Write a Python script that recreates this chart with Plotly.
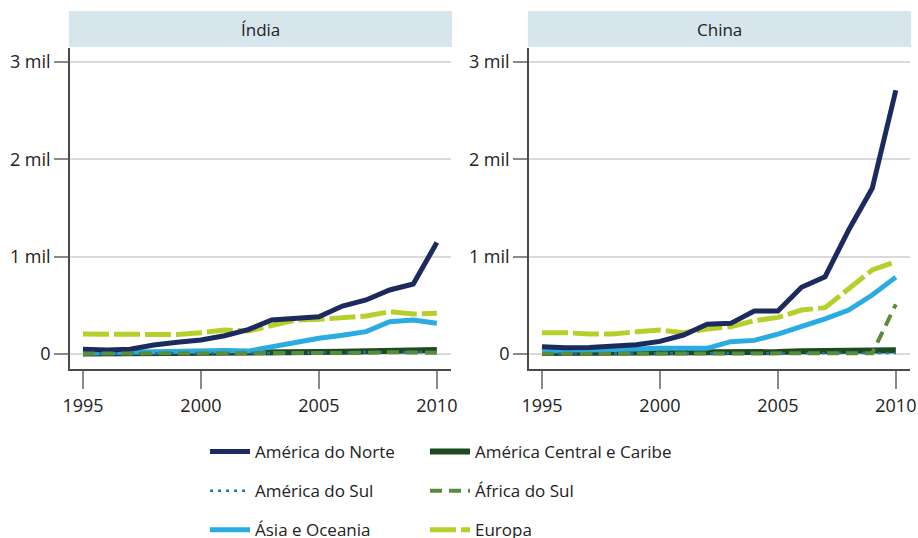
import plotly.graph_objects as go

years = list(range(1995, 2011))
panels = ["Índia", "China"]

series_names = ["América do Norte", "América Central e Caribe", "América do Sul",
                "África do Sul", "Ásia e Oceania", "Europa"]

india_norte = [50, 40, 50, 92, 120, 144, 188, 250, 349, 367, 383, 493, 555, 658, 719, 1145]
india_central = [5, 5, 5, 5, 5, 5, 8, 10, 12, 15, 20, 22, 25, 30, 32, 40]
india_sul = [5, 5, 5, 5, 5, 8, 8, 10, 10, 12, 15, 15, 18, 20, 20, 20]
india_africa = [5, 5, 5, 5, 5, 5, 5, 8, 8, 10, 10, 10, 12, 18, 10, 12]
india_asia = [10, 15, 15, 25, 25, 25, 35, 30, 75, 116, 161, 192, 230, 332, 349, 315]
india_europa = [205, 205, 195, 195, 200, 219, 246, 236, 298, 349, 356, 367, 390, 435, 411, 418]

china_norte = [75, 65, 68, 78, 95, 130, 195, 305, 315, 442, 442, 685, 794, 1274, 1702, 2710]
china_central = [10, 10, 10, 10, 10, 10, 10, 12, 12, 15, 20, 28, 28, 30, 32, 38]
china_sul = [5, 5, 5, 5, 5, 5, 5, 5, 5, 8, 8, 10, 10, 10, 10, 10]
china_africa = [3, 3, 3, 3, 3, 3, 3, 3, 3, 5, 5, 5, 5, 5, 8, 510]
china_asia = [24, 41, 41, 41, 51, 58, 58, 58, 127, 140, 205, 281, 362, 452, 606, 790]
china_europa = [219, 219, 205, 205, 229, 246, 219, 257, 281, 342, 376, 452, 476, 667, 863, 948]

y_tickvals = [0, 1000, 2000, 3000]
y_ticktext = ["0", "1 mil", "2 mil", "3 mil"]
x_tickvals = [1995, 2000, 2005, 2010]

data = {
    "Índia": {
        "América do Norte": india_norte, "América Central e Caribe": india_central,
        "América do Sul": india_sul, "África do Sul": india_africa,
        "Ásia e Oceania": india_asia, "Europa": india_europa,
    },
    "China": {
        "América do Norte": china_norte, "América Central e Caribe": china_central,
        "América do Sul": china_sul, "África do Sul": china_africa,
        "Ásia e Oceania": china_asia, "Europa": china_europa,
    },
}

styles = {
    "América do Norte": dict(color="#1c2b5e", width=5, dash="solid", legend="legend", rank=1),
    "América Central e Caribe": dict(color="#1e4a20", width=6, dash="solid", legend="legend2", rank=1),
    "América do Sul": dict(color="#1f72b8", width=2.5, dash="3px,5px", legend="legend", rank=2),
    "África do Sul": dict(color="#5b8b3c", width=4, dash="12px,7px", legend="legend2", rank=2),
    "Ásia e Oceania": dict(color="#2aabe2", width=5, dash="solid", legend="legend", rank=3),
    "Europa": dict(color="#b7cf2b", width=5, dash="26px,5px", legend="legend2", rank=3),
}

draw_order = ["América Central e Caribe", "Ásia e Oceania", "Europa", "América do Norte",
              "América do Sul", "África do Sul"]

FONT = "Open Sans"
fig = go.Figure()

for pi, panel in enumerate(panels):
    xa = "x" if pi == 0 else "x2"
    ya = "y" if pi == 0 else "y2"
    for name in draw_order:
        s = styles[name]
        fig.add_trace(go.Scatter(
            x=years, y=data[panel][name], mode="lines", name=name,
            line=dict(color=s["color"], width=s["width"], dash=s["dash"]),
            xaxis=xa, yaxis=ya, showlegend=(pi == 0),
            legend=s["legend"], legendrank=s["rank"], legendgroup=name,
        ))

W, H = 918, 538
ml, mr, mt, mb = 70, 8, 48, 169
pw = W - ml - mr
ph = H - mt - mb

axis_common = dict(
    showline=True, linecolor="#4a4a4a", linewidth=1.5, mirror=False,
    ticks="outside", tickcolor="#8a8a8a", tickwidth=1.5,
    tickfont=dict(family=FONT, size=18, color="#222222"),
    zeroline=False, automargin=False, ticklabeloverflow="allow",
)

xrange = [1994.45, 2010.6]
yrange = [-154, 3144]

fig.update_layout(
    width=W, height=H,
    margin=dict(l=ml, r=mr, t=mt, b=mb, autoexpand=False),
    paper_bgcolor="white", plot_bgcolor="white",
    font=dict(family=FONT, size=17, color="#222222"),
    xaxis=dict(domain=[0, 381 / pw], range=xrange, tickvals=x_tickvals, ticklen=18,
               ticklabelstandoff=2, showgrid=False, anchor="y", **axis_common),
    xaxis2=dict(domain=[459 / pw, 1], range=xrange, tickvals=x_tickvals, ticklen=18,
                ticklabelstandoff=2, showgrid=False, anchor="y2", **axis_common),
    yaxis=dict(domain=[0, 1], range=yrange, tickvals=y_tickvals, ticktext=y_ticktext,
               ticklen=14, showgrid=True, gridcolor="#dadada", gridwidth=1.5,
               anchor="x", **axis_common),
    yaxis2=dict(domain=[0, 1], range=yrange, tickvals=y_tickvals, ticktext=y_ticktext,
                ticklen=14, showgrid=True, gridcolor="#dadada", gridwidth=1.5,
                anchor="x2", **axis_common),
    legend=dict(x=(205 - ml) / pw, y=(369 - 434) / ph, xanchor="left", yanchor="top",
                orientation="v", tracegroupgap=14, itemwidth=40,
                font=dict(family=FONT, size=17, color="#222222"), bgcolor="rgba(0,0,0,0)"),
    legend2=dict(x=(425 - ml) / pw, y=(369 - 434) / ph, xanchor="left", yanchor="top",
                 orientation="v", tracegroupgap=14, itemwidth=40,
                 font=dict(family=FONT, size=17, color="#222222"), bgcolor="rgba(0,0,0,0)"),
    showlegend=True,
)

for pi, panel in enumerate(panels):
    xd = "x domain" if pi == 0 else "x2 domain"
    fig.add_shape(type="rect", xref=xd, yref="paper", x0=-0.003, x1=1.003,
                  y0=1 + 1 / ph, y1=1 + 37 / ph, fillcolor="#d7e6ed", line=dict(width=0),
                  layer="below")
    fig.add_annotation(text=panel, xref=xd, yref="paper", x=0.5, y=1 + 19 / ph,
                       showarrow=False, xanchor="center", yanchor="middle",
                       font=dict(family=FONT, size=17, color="#222222"))

fig.write_html(
    "out.html",
    config={"displayModeBar": False},
    post_script="document.body.style.margin='0';document.body.style.overflow='hidden';",
)
